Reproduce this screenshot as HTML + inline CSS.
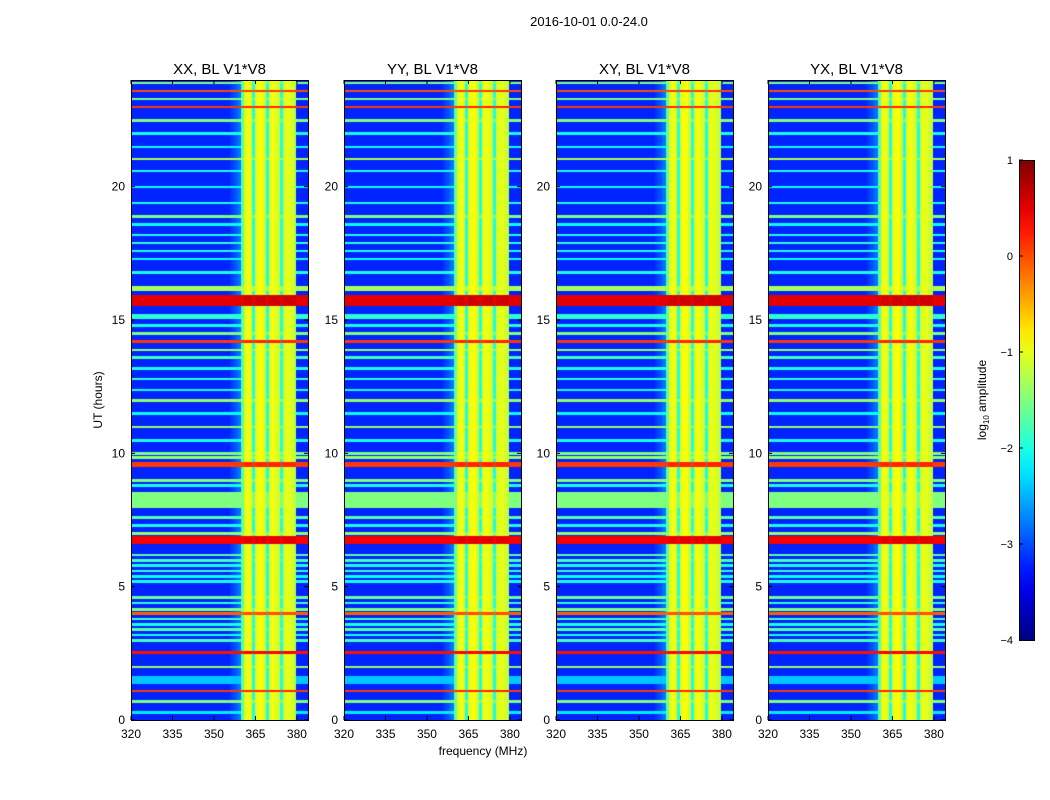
<!DOCTYPE html>
<html><head><meta charset="utf-8"><style>
body{margin:0;background:#fff;width:1050px;height:800px;overflow:hidden;font-family:"Liberation Sans",sans-serif}
canvas{position:absolute}
svg{position:absolute;left:0;top:0}
</style></head><body>
<div id="wrap"></div>
<svg id="ov" width="1050" height="800"></svg>
<script>
// ---- data ----
const panelTitles = ["XX, BL V1*V8","YY, BL V1*V8","XY, BL V1*V8","YX, BL V1*V8"];
const xTicks = [320,335,350,365,380];
const yTicks = [0,5,10,15,20];
const cbTicks = [1,0,-1,-2,-3,-4];
// per-MHz channel levels (320..383), log10 amplitude
const channelLevels = [-3.2,-3.2,-3.2,-3.2,-3.2,-3.2,-3.2,-3.2,-3.2,-3.2,-3.2,-3.2,-3.2,-3.2,-3.2,-3.2,-3.2,-3.2,-3.2,-3.2,
 -3.2,-3.2,-3.2,-3.2,-3.2,-3.2,-3.2,-3.2,-3.2,-3.2,-3.2,-3.2,-3.2,-3.2,-3.2,-3.2,-3.1,-3.0,-2.9,-2.8,
 -1.7,-1.0,-0.9,-1.0,-2.0,-1.0,-0.9,-0.9,-1.1,-2.0,-1.0,-0.9,-1.0,-1.1,-2.0,-1.1,-1.0,-1.0,-1.1,-1.2,
 -3.2,-3.2,-3.2,-3.2];
// horizontal RFI/time lines: hour, width (hours), level
const lineHours  = [0.3,0.7,1.1,1.5,2.0,2.55,3.0,3.2,3.4,3.6,3.8,4.0,4.15,4.4,4.6,5.2,5.4,5.6,5.8,6.0,6.2,6.75,7.0,7.3,7.6,8.25,8.8,9.0,9.6,9.85,10.0,10.5,11.0,11.5,12.0,12.4,12.8,13.2,13.6,13.9,14.2,14.5,14.8,15.15,15.75,16.2,16.8,17.3,17.6,17.9,18.2,18.6,18.9,19.4,20.0,20.6,21.05,21.5,22.0,22.5,23.0,23.3,23.6,23.9];
const lineWidths = [0.08,0.04,0.06,0.3,0.04,0.1,0.04,0.04,0.04,0.04,0.04,0.04,0.04,0.04,0.04,0.04,0.04,0.04,0.04,0.04,0.04,0.25,0.04,0.04,0.04,0.6,0.04,0.04,0.15,0.04,0.04,0.04,0.06,0.04,0.06,0.04,0.04,0.04,0.04,0.08,0.04,0.04,0.04,0.2,0.35,0.15,0.04,0.04,0.04,0.04,0.04,0.04,0.04,0.04,0.04,0.04,0.1,0.04,0.04,0.04,0.04,0.04,0.04,0.04];
const lineLevels = [-2.2,-1.5,0.1,-2.4,-1.4,0.3,-1.8,-2.0,-1.7,-2.0,-1.8,-0.1,-1.5,-1.9,-1.6,-2.0,-2.1,-1.9,-2.0,-1.8,-1.7,0.4,-1.4,-2.0,-1.7,-1.5,-2.0,-1.5,0.1,-1.4,-1.5,-2.0,-1.4,-2.1,-1.4,-2.0,-1.9,-2.0,-1.8,-1.4,0.1,-1.5,-2.0,-1.9,0.5,-1.3,-2.0,-2.1,-2.0,-1.9,-2.0,-2.1,-1.5,-2.0,-2.1,-2.0,-1.3,-2.1,-2.0,-1.5,0.1,-1.5,0.0,-1.5];
// ---- geometry ----
const panelLeft=[131,344,556,768], PW=177, PT=80, PH=640;
const fMin=320,fMax=384,tMin=0,tMax=24;
const xS=(p,f)=>panelLeft[p]+(f-fMin)/(fMax-fMin)*PW;
const yS=t=>PT+PH-(t-tMin)/(tMax-tMin)*PH;
function jet(v){let x=(v+4)/5;x=Math.max(0,Math.min(1,x));
 const r=Math.max(0,Math.min(1,1.5-Math.abs(4*x-3))),g=Math.max(0,Math.min(1,1.5-Math.abs(4*x-2))),b=Math.max(0,Math.min(1,1.5-Math.abs(4*x-1)));
 return `rgb(${r*255|0},${g*255|0},${b*255|0})`;}
const NR=480, HALF=12/NR;
function rowLevel(t){let v=-9;for(let i=0;i<lineHours.length;i++){if(Math.abs(t-lineHours[i])<=Math.max(lineWidths[i]/2,HALF)+1e-6)v=Math.max(v,lineLevels[i]);}return v;}
const wrap=document.getElementById('wrap');
const ov=document.getElementById('ov');
const NS="http://www.w3.org/2000/svg";
function el(tag,attrs,txt){const e=document.createElementNS(NS,tag);for(const k in attrs)e.setAttribute(k,attrs[k]);if(txt!==undefined)e.textContent=txt;ov.appendChild(e);return e;}
for(let p=0;p<4;p++){
 const c=document.createElement('canvas');c.width=PW;c.height=PH;c.style.left=panelLeft[p]+'px';c.style.top=PT+'px';
 
 
 wrap.appendChild(c);const g=c.getContext('2d');
 for(let ch=0;ch<channelLevels.length;ch++){
  const x0=xS(p,fMin+ch)-panelLeft[p],x1=xS(p,fMin+ch+1)-panelLeft[p];
  for(let r=0;r<NR;r++){
   const t=(r+0.5)*24/NR;const rl=rowLevel(t);
   let v=Math.max(channelLevels[ch],rl);
   if(rl>-0.5&&channelLevels[ch]>-1.3)v=rl+0.1;
   g.fillStyle=jet(v);
   const y0=yS(t+HALF)-PT,y1=yS(t-HALF)-PT;
   g.fillRect(Math.floor(x0),Math.floor(y0),Math.ceil(x1)-Math.floor(x0),Math.ceil(y1)-Math.floor(y0));
  }
 }
 el('rect',{x:panelLeft[p]+.5,y:PT+.5,width:PW,height:PH,fill:'none',stroke:'#000',});
 el('text',{x:panelLeft[p]+PW/2,y:74,'text-anchor':'middle','font-size':15,},panelTitles[p]);
 xTicks.forEach(f=>{const x=xS(p,f);
  el('line',{x1:x,x2:x,y1:PT+PH,y2:PT+PH-4,stroke:'#000',});
  el('line',{x1:x,x2:x,y1:PT,y2:PT+4,stroke:'#000',});
  el('text',{x:x,y:738,'text-anchor':'middle','font-size':12,},f);});
 yTicks.forEach(t=>{const y=yS(t);
  el('line',{x1:panelLeft[p],x2:panelLeft[p]+4,y1:y,y2:y,stroke:'#000',});
  el('line',{x1:panelLeft[p]+PW,x2:panelLeft[p]+PW-4,y1:y,y2:y,stroke:'#000',});
  el('text',{x:panelLeft[p]-6,y:y+4,'text-anchor':'end','font-size':12,},t);});
}
el('text',{x:589,y:26,'text-anchor':'middle','font-size':13,},'2016-10-01 0.0-24.0');
el('text',{x:483,y:755,'text-anchor':'middle','font-size':12,},'frequency (MHz)');
el('text',{x:0,y:0,transform:'translate(102,400) rotate(-90)','text-anchor':'middle','font-size':12,},'UT (hours)');
// colorbar
const defs=el('defs',{});
const lg=document.createElementNS(NS,'linearGradient');lg.setAttribute('id','jg');lg.setAttribute('x1','0');lg.setAttribute('y1','1');lg.setAttribute('x2','0');lg.setAttribute('y2','0');
for(let i=0;i<=20;i++){const s=document.createElementNS(NS,'stop');s.setAttribute('offset',i/20);s.setAttribute('stop-color',jet(-4+5*i/20));lg.appendChild(s);}
defs.appendChild(lg);
const cbX=1019,cbT=160,cbH=480,cbW=15;
el('rect',{x:cbX+.5,y:cbT+.5,width:cbW,height:cbH,fill:'url(#jg)',stroke:'#000',});
cbTicks.forEach(v=>{const y=cbT+(1-v)/5*cbH;
 el('line',{x1:cbX,x2:cbX+4,y1:y,y2:y,stroke:'#000',});
 el('text',{x:1013,y:y+4,'text-anchor':'end','font-size':11,},v<0?'\u2212'+(-v):v);});
const lab=el('text',{x:0,y:0,transform:'translate(986,400) rotate(-90)','text-anchor':'middle','font-size':12,},'log');
const sub=document.createElementNS(NS,'tspan');sub.setAttribute('font-size','8');sub.setAttribute('dy','3');sub.textContent='10';lab.appendChild(sub);
const rest=document.createElementNS(NS,'tspan');rest.setAttribute('dy','-3');rest.textContent=' amplitude';lab.appendChild(rest);
</script>
</body></html>
